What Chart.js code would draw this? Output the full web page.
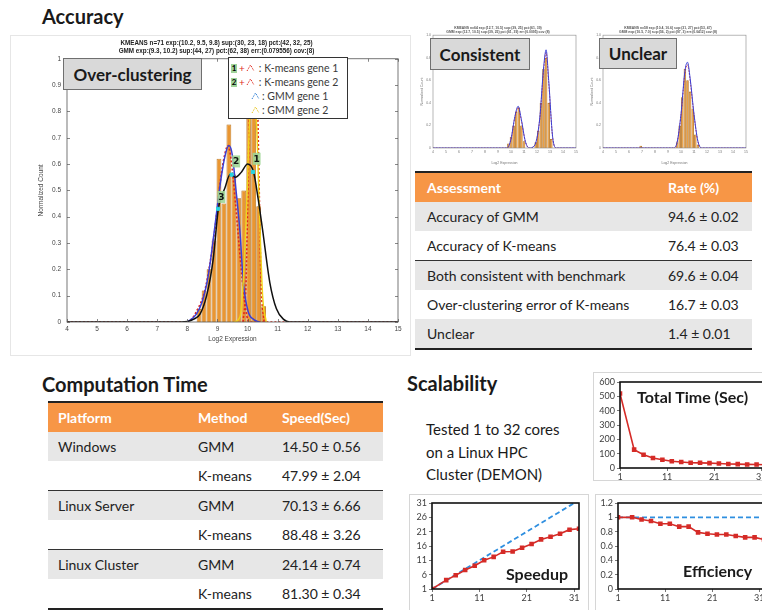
<!DOCTYPE html>
<html>
<head>
<meta charset="utf-8">
<title>GMM vs K-means</title>
<script src="https://cdn.jsdelivr.net/npm/chart.js@4.4.1/dist/chart.umd.min.js"></script>
<style>
  html, body { margin: 0; padding: 0; background: #fff; }
  body { position: relative; width: 762px; height: 610px; overflow: hidden; font-family: Lato, "Open Sans", sans-serif; color: #1a1a1a; }
  .abs { position: absolute; }
  canvas { position: absolute; }
  .section { position: absolute; font-weight: 700; font-size: 20px; line-height: 24px; white-space: nowrap; }
  .tag { position: absolute; background: #d9d9d9; border: 1px solid #6f6f6f; font-weight: 700; font-size: 17px; display: flex; align-items: center; justify-content: center; box-sizing: border-box; }
  .frame { position: absolute; border: 1px solid #d6d6d6; box-sizing: border-box; }
  .legend { position: absolute; background: #fff; border: 1.5px solid #333; box-sizing: border-box; font-size: 10.5px; color: #3a3a3a; padding: 3px 0 0 2px; }
  .legend div { height: 14px; line-height: 14px; white-space: nowrap; display: flex; align-items: center; }
  .gb { display: inline-block; width: 6px; height: 9px; background: #9fd39a; color: #000; font-weight: 700; font-size: 8px; line-height: 9px; text-align: center; margin-right: 2px; }
  table { position: absolute; border-collapse: collapse; font-size: 14px; color: #222; }
  th { background: #F79646; color: #fff; font-weight: 700; text-align: left; height: 29px; padding: 0; border-top: 2px solid #222; }
  td { height: 29px; padding: 0; }
  tr.g td { background: #e7e7e7; }
  tr.sep td { border-top: 1.5px solid #333; }
  tr.last td { border-bottom: 2px solid #222; }
  .inner { position: absolute; font-weight: 700; font-size: 16px; white-space: nowrap; }
  .note { position: absolute; font-size: 15px; line-height: 22.5px; white-space: nowrap; }
</style>
</head>
<body>

<div class="section" style="left:42px;top:4px;">Accuracy</div>
<div class="section" style="left:42px;top:372px;">Computation Time</div>
<div class="section" style="left:407px;top:371px;">Scalability</div>

<div class="frame" style="left:10px;top:35px;width:401px;height:321px;border-color:#e6e6e6;"></div>
<canvas id="hist" width="400" height="320" style="left:10px;top:35px;"></canvas>
<div class="tag" style="left:63px;top:58px;width:139px;height:32px;">Over-clustering</div>
<div class="legend" style="left:228px;top:57px;width:120px;height:62px;">
  <div><span class="gb">1</span><span style="color:#e0281c;font-size:10px;margin-right:1px;">+</span><svg width="9" height="8"><polyline points="1,7 4.5,1 8,7" fill="none" stroke="#e0281c" stroke-width="1" stroke-dasharray="1.5,1.2"/></svg><span style="margin-left:4px;">: K-means gene 1</span></div>
  <div><span class="gb">2</span><span style="color:#e0281c;font-size:10px;margin-right:1px;">+</span><svg width="9" height="8"><polyline points="1,7 4.5,1 8,7" fill="none" stroke="#e0281c" stroke-width="1" stroke-dasharray="1.5,1.2"/></svg><span style="margin-left:4px;">: K-means gene 2</span></div>
  <div><span style="display:inline-block;width:20px;"></span><svg width="9" height="8"><polyline points="1,7 4.5,1 8,7" fill="none" stroke="#2f7fd6" stroke-width="1" stroke-dasharray="1.5,1.2"/></svg><span style="margin-left:2px;">: GMM gene 1</span></div>
  <div><span style="display:inline-block;width:20px;"></span><svg width="9" height="8"><polyline points="1,7 4.5,1 8,7" fill="none" stroke="#e8c619" stroke-width="1" stroke-dasharray="1.5,1.2"/></svg><span style="margin-left:2px;">: GMM gene 2</span></div>
</div>

<canvas id="thumbA" width="165" height="145" style="left:420px;top:20px;"></canvas>
<canvas id="thumbB" width="165" height="145" style="left:590px;top:20px;"></canvas>
<div class="tag" style="left:430px;top:38px;width:100px;height:32px;">Consistent</div>
<div class="tag" style="left:599px;top:38px;width:78px;height:31px;">Unclear</div>

<table style="left:415px;top:171px;width:337px;">
  <tr><th style="width:241px;padding-left:12px;">Assessment</th><th>Rate (%)</th></tr>
  <tr class="g"><td style="padding-left:12px;">Accuracy of GMM</td><td>94.6 ± 0.02</td></tr>
  <tr><td style="padding-left:12px;">Accuracy of K-means</td><td>76.4 ± 0.03</td></tr>
  <tr class="g sep"><td style="padding-left:12px;">Both consistent with benchmark</td><td>69.6 ± 0.04</td></tr>
  <tr><td style="padding-left:12px;">Over-clustering error of K-means</td><td>16.7 ± 0.03</td></tr>
  <tr class="g last"><td style="padding-left:12px;">Unclear</td><td>1.4 ± 0.01</td></tr>
</table>

<table style="left:48px;top:401px;width:335px;">
  <tr><th style="width:140px;padding-left:10px;">Platform</th><th style="width:84px;">Method</th><th>Speed(Sec)</th></tr>
  <tr class="g"><td style="padding-left:10px;">Windows</td><td>GMM</td><td>14.50 ± 0.56</td></tr>
  <tr><td></td><td>K-means</td><td>47.99 ± 2.04</td></tr>
  <tr class="g sep"><td style="padding-left:10px;">Linux Server</td><td>GMM</td><td>70.13 ± 6.66</td></tr>
  <tr><td></td><td>K-means</td><td>88.48 ± 3.26</td></tr>
  <tr class="g sep"><td style="padding-left:10px;">Linux Cluster</td><td>GMM</td><td>24.14 ± 0.74</td></tr>
  <tr class="last"><td></td><td>K-means</td><td>81.30 ± 0.34</td></tr>
</table>

<div class="note" style="left:426px;top:418px;">Tested 1 to 32 cores<br>on a Linux HPC<br>Cluster (DEMON)</div>

<div class="frame" style="left:593px;top:372px;width:180px;height:109px;"></div>
<div class="frame" style="left:409px;top:494px;width:180px;height:130px;"></div>
<div class="frame" style="left:595px;top:494px;width:180px;height:130px;"></div>
<canvas id="total" width="180" height="116" style="left:593px;top:372px;"></canvas>
<canvas id="speedup" width="180" height="116" style="left:409px;top:494px;"></canvas>
<canvas id="efficiency" width="180" height="116" style="left:595px;top:494px;"></canvas>
<div class="inner" style="left:637px;top:387px;">Total Time (Sec)</div>
<div class="inner" style="left:506px;top:564px;">Speedup</div>
<div class="inner" style="left:683px;top:561px;">Efficiency</div>

<script>
// ---- main histogram (Log2 expression, over-clustering example)
const histBins = [8.39, 8.555, 8.72, 8.885, 9.05, 9.215, 9.38, 9.545, 9.71, 9.875, 10.04, 10.205, 10.37, 10.535];
const histCounts = [0.05, 0.12, 0.2, 0.31, 0.62, 0.45, 0.75, 0.56, 0.47, 0.5, 0.95, 0.9, 0.44, 0.06];

const gmmX = [4, 7.8, 8.2, 8.42, 8.64, 8.86, 9.03, 9.25, 9.42, 9.6, 9.8, 10.0, 10.2, 10.35, 10.5, 10.74, 10.96, 11.2, 11.4, 15];
const gmmMix = [0, 0, 0.01, 0.03, 0.1, 0.24, 0.43, 0.51, 0.56, 0.55, 0.57, 0.6, 0.57, 0.47, 0.35, 0.15, 0.05, 0.01, 0, 0];

const gmm1X = [8.0, 8.3, 8.5, 8.7, 8.9, 9.1, 9.25, 9.38, 9.5, 9.6, 9.75, 9.86, 10.02, 10.2, 10.4];
const gmm1Y = [0, 0.03, 0.08, 0.18, 0.35, 0.53, 0.63, 0.67, 0.63, 0.52, 0.34, 0.15, 0.04, 0.01, 0];

const gmm2X = [9.55, 9.75, 9.86, 9.97, 10.08, 10.17, 10.3, 10.4, 10.5, 10.62];
const gmm2Y = [0, 0.02, 0.16, 0.44, 0.8, 0.9, 0.75, 0.4, 0.1, 0];

const kmLeftX = [4, 8.0, 8.3, 8.6, 8.9, 9.1, 9.25, 9.35, 9.45, 9.6, 9.75, 9.9, 10.05, 15];
const kmLeftY = [0, 0, 0.04, 0.13, 0.34, 0.54, 0.64, 0.67, 0.62, 0.45, 0.25, 0.08, 0, 0];

const kmRightX = [9.85, 9.95, 10.02, 10.08, 10.2, 10.32, 10.38, 10.45, 10.55];
const kmRightY = [0, 0.15, 0.55, 0.9, 1.05, 0.9, 0.55, 0.15, 0];

const centerX = [9.02, 9.47, 10.18];
const centerY = [0.43, 0.56, 0.57];
const clusterLabelX = [10.3, 9.62, 9.13];
const clusterLabelY = [0.62, 0.61, 0.475];
const clusterLabelText = ["1", "2", "3"];

const histTitle = [
  "KMEANS n=71 exp:(10.2, 9.5, 9.8) sup:(30, 23, 18) pct:(42, 32, 25)",
  "GMM exp:(9.3, 10.2) sup:(44, 27) pct:(62, 38) err:(0.079556) cov:(8)"
];

// ---- thumbnails
const consBins = [9.8, 10.0, 10.2, 10.4, 10.6, 10.8, 11.0, 11.9, 12.1, 12.3, 12.5, 12.7, 12.9, 13.1];
const consCounts = [0.04, 0.1, 0.2, 0.32, 0.36, 0.2, 0.06, 0.05, 0.15, 0.4, 0.7, 0.8, 0.4, 0.08];
const consCurveX = [4, 9.7, 10.0, 10.3, 10.55, 10.8, 11.1, 11.4, 11.8, 12.2, 12.5, 12.7, 12.9, 13.2, 13.5, 15];
const consCurveY = [0, 0, 0.08, 0.28, 0.37, 0.25, 0.06, 0, 0.02, 0.25, 0.7, 0.87, 0.6, 0.1, 0, 0];

const unclBins = [6.9, 9.7, 9.9, 10.1, 10.3, 10.5, 10.7, 10.9, 11.1, 11.3];
const unclCounts = [0.02, 0.05, 0.2, 0.45, 0.7, 0.6, 0.5, 0.35, 0.12, 0.03];
const unclCurveX = [4, 9.4, 9.7, 10.0, 10.3, 10.5, 10.7, 11.0, 11.3, 11.6, 15];
const unclCurveY = [0, 0, 0.05, 0.3, 0.68, 0.76, 0.62, 0.3, 0.06, 0, 0];

const consTitle = ["KMEANS n=64 exp:(12.7, 10.5) sup:(39, 25) pct:(61, 39)", "GMM exp:(12.7, 10.5) sup:(39, 25) pct:(61, 39) err:(0.0095) cov:(8)"];
const unclTitle = ["KMEANS n=58 exp:(10.4, 10.6) sup:(31, 27) pct:(53, 47)", "GMM exp:(10.5, 7.0) sup:(56, 2) pct:(97, 3) err:(0.0412) cov:(8)"];

// ---- scalability (Linux HPC cluster)
const cores = [1, 4, 6, 8, 10, 12, 14, 16, 18, 20, 22, 24, 26, 28, 30, 32];
const totalTime = [520, 128, 92, 70, 57, 47, 42, 37, 36, 34, 31, 28, 27, 25, 24, 23];
const speedup = [1, 4.1, 5.8, 7.6, 9.1, 11, 12.2, 14, 14.1, 15.4, 16.7, 18.3, 19.2, 20.3, 21.7, 22];
const idealSpeedup = [1, 4, 6, 8, 10, 12, 14, 16, 18, 20, 22, 24, 26, 28, 30, 32];
const efficiency = [1, 1, 0.97, 0.95, 0.91, 0.91, 0.87, 0.87, 0.79, 0.77, 0.76, 0.76, 0.74, 0.72, 0.72, 0.69];
const idealEfficiency = [1, 1, 1, 1, 1, 1, 1, 1, 1, 1, 1, 1, 1, 1, 1, 1];
const coreTicks = [1, 11, 21, 31];
const totalTicks = [0, 100, 200, 300, 400, 500, 600];
const speedupTicks = [1, 6, 11, 16, 21, 26, 31];
const effTicks = [0, 0.2, 0.4, 0.6, 0.8, 1, 1.2];

const pts = (xs, ys) => xs.map((x, i) => ({ x, y: ys[i] }));

function curve(xs, ys, color, dash, width) {
  return {
    type: "line",
    data: pts(xs, ys),
    borderColor: color,
    borderWidth: width || 1.3,
    borderDash: dash || [],
    pointRadius: 0,
    cubicInterpolationMode: "monotone",
    fill: false,
    order: 1
  };
}

function bars(xs, ys) {
  return {
    type: "bar",
    data: pts(xs, ys),
    backgroundColor: "#EA9631",
    borderColor: "#A9640F",
    borderWidth: 0.8,
    categoryPercentage: 1,
    barPercentage: 0.96,
    order: 10
  };
}

// frame round the plot area, with matlab style inward ticks
const boxPlugin = {
  id: "box",
  afterDraw(chart, args, opts) {
    const { ctx, chartArea: a } = chart;
    ctx.save();
    ctx.strokeStyle = opts.color || "#000";
    ctx.lineWidth = opts.width || 1;
    ctx.strokeRect(a.left, a.top, a.right - a.left, a.bottom - a.top);
    if (opts.inner) {
      const x = chart.scales.x, y = chart.scales.y, len = opts.inner;
      ctx.beginPath();
      x.ticks.forEach(t => {
        const px = Math.round(x.getPixelForValue(t.value)) + 0.5;
        ctx.moveTo(px, a.bottom); ctx.lineTo(px, a.bottom - len);
        ctx.moveTo(px, a.top); ctx.lineTo(px, a.top + len);
      });
      y.ticks.forEach(t => {
        const py = Math.round(y.getPixelForValue(t.value)) + 0.5;
        ctx.moveTo(a.left, py); ctx.lineTo(a.left + len, py);
        ctx.moveTo(a.right, py); ctx.lineTo(a.right - len, py);
      });
      ctx.lineWidth = 0.7;
      ctx.stroke();
    }
    ctx.restore();
  }
};

const clusterLabels = {
  id: "clusterLabels",
  afterDatasetsDraw(chart) {
    const { ctx, scales: { x, y } } = chart;
    ctx.save();
    ctx.font = "bold 9px 'DejaVu Sans'";
    ctx.textAlign = "center";
    ctx.textBaseline = "middle";
    clusterLabelText.forEach((t, i) => {
      const px = x.getPixelForValue(clusterLabelX[i]);
      const py = y.getPixelForValue(clusterLabelY[i]);
      ctx.fillStyle = "rgba(160,214,150,0.9)";
      ctx.fillRect(px - 4, py - 6, 8, 12);
      ctx.fillStyle = "#111";
      ctx.fillText(t, px, py + 0.5);
    });
    ctx.restore();
  }
};

Chart.defaults.animation = false;
Chart.defaults.responsive = false;
Chart.defaults.plugins.legend.display = false;
Chart.defaults.plugins.tooltip.enabled = false;

const smallFont = { family: "'Liberation Sans'", size: 6.5 };

new Chart(document.getElementById("hist"), {
  type: "bar",
  data: {
    datasets: [
      {
        type: "line",
        data: pts(centerX, centerY),
        showLine: false,
        pointStyle: "rect",
        pointRadius: 2.2,
        pointBackgroundColor: "#27d3e0",
        pointBorderColor: "#27d3e0",
        order: 0
      },
      curve(gmmX, gmmMix, "#111", [], 1.5),
      curve(gmm2X, gmm2Y, "#f2d21b", [], 1.5),
      curve(gmm1X, gmm1Y, "#3a3fd6", [], 1.5),
      curve(kmLeftX, kmLeftY, "#e0281c", [2, 2], 1.6),
      curve(kmRightX, kmRightY, "#e0281c", [2, 2], 1.6),
      bars(histBins, histCounts)
    ]
  },
  options: {
    layout: { padding: { right: 12, left: 25, bottom: 11 } },
    plugins: {
      title: {
        display: true,
        text: histTitle,
        color: "#222",
        font: { family: "'Liberation Sans'", size: 6.3, weight: "bold", lineHeight: 1.25 },
        padding: { top: 4, bottom: 4 }
      },
      box: { color: "#555", width: 0.8, inner: 3 }
    },
    scales: {
      x: {
        type: "linear", min: 4, max: 15, offset: false,
        grid: { display: false, drawTicks: false, tickLength: 0, offset: false },
        border: { display: false },
        ticks: { stepSize: 1, color: "#444", font: smallFont, padding: 3 },
        title: { display: true, text: "Log2 Expression", color: "#444", font: smallFont, padding: 1 },
        afterFit: s => { s.height = 22; }
      },
      y: {
        min: 0, max: 1,
        grid: { display: false, drawTicks: false, tickLength: 0 },
        border: { display: false },
        ticks: { stepSize: 0.1, color: "#444", font: smallFont, padding: 6,
          callback: v => Number(v.toFixed(1)) },
        title: { display: true, text: "Normalized Count", color: "#444", font: smallFont, padding: 2 },
        afterFit: s => { s.width = 32; }
      }
    }
  },
  plugins: [boxPlugin, clusterLabels]
});

function thumb(id, binsX, binsY, cx, cy, title) {
  new Chart(document.getElementById(id), {
    type: "bar",
    data: {
      datasets: [
        curve(cx, cy, "#3a3fd6", [], 1),
        curve(cx, cy.map(v => v * 0.97), "#e0281c", [1.5, 1.5], 0.9),
        bars(binsX, binsY)
      ]
    },
    options: {
      layout: { padding: { right: 9 } },
      plugins: {
        title: {
          display: true, text: title, color: "#555",
          font: { family: "'Liberation Sans'", size: 3.4, weight: "bold", lineHeight: 1.2 },
          padding: { top: 6, bottom: 1 }
        },
        box: { color: "#888", width: 0.6 }
      },
      scales: {
        x: {
          type: "linear", min: 4, max: 15, offset: false,
          grid: { display: false, drawTicks: false, tickLength: 0 }, border: { display: false },
          ticks: { stepSize: 1, color: "#777", font: { size: 3.5 }, padding: 2 },
          title: { display: true, text: "Log2 Expression", color: "#777", font: { size: 3.5 }, padding: 0 },
          afterFit: s => { s.height = 17; }
        },
        y: {
          min: 0, max: 1,
          grid: { display: false, drawTicks: false, tickLength: 0 }, border: { display: false },
          ticks: { stepSize: 0.2, color: "#777", font: { size: 3.5 }, padding: 2 },
          title: { display: true, text: "Normalized Count", color: "#777", font: { size: 3.5 }, padding: 0 },
          afterFit: s => { s.width = 13; }
        }
      }
    },
    plugins: [boxPlugin]
  });
}

thumb("thumbA", consBins, consCounts, consCurveX, consCurveY, consTitle);
thumb("thumbB", unclBins, unclCounts, unclCurveX, unclCurveY, unclTitle);

function redLine(ys) {
  return {
    data: pts(cores, ys),
    borderColor: "#d52b27",
    backgroundColor: "#d52b27",
    borderWidth: 1.6,
    pointStyle: "rect",
    pointRadius: 2.1,
    order: 0
  };
}

function idealLine(ys) {
  return {
    data: pts(cores, ys),
    borderColor: "#2f8fe0",
    borderWidth: 1.8,
    borderDash: [5, 3],
    pointRadius: 0,
    order: 1
  };
}

function scaleChart(id, datasets, yMin, yMax, yTicks, padRight, xHeight, yWidth, padTop) {
  new Chart(document.getElementById(id), {
    type: "line",
    data: { datasets },
    options: {
      layout: { padding: { top: padTop, right: padRight } },
      plugins: { box: { color: "#111", width: 1.6 } },
      scales: {
        x: {
          type: "linear", min: 1, max: 32,
          afterBuildTicks: s => { s.ticks = coreTicks.map(v => ({ value: v })); },
          grid: { drawOnChartArea: false, drawTicks: true, tickLength: 3, color: "#777" },
          border: { display: false },
          ticks: { color: "#404040", font: { family: "Lato", size: 9 }, padding: 1 },
          afterFit: s => { s.height = xHeight; }
        },
        y: {
          min: yMin, max: yMax,
          afterBuildTicks: s => { s.ticks = yTicks.map(v => ({ value: v })); },
          grid: { drawOnChartArea: false, drawTicks: true, tickLength: 3, color: "#777" },
          border: { display: false },
          ticks: { color: "#404040", font: { family: "Lato", size: 9 }, padding: 2,
            callback: v => String(Number(v.toFixed(1))) },
          afterFit: s => { s.width = yWidth; }
        }
      }
    },
    plugins: [boxPlugin]
  });
}

scaleChart("total", [redLine(totalTime)], 0, 600, totalTicks, 7, 20, 27, 10);
scaleChart("speedup", [redLine(speedup), idealLine(idealSpeedup)], 1, 31, speedupTicks, 10, 21, 23, 9);
scaleChart("efficiency", [redLine(efficiency), idealLine(idealEfficiency)], 0, 1.2, effTicks, 11, 21, 23, 9);
</script>
</body>
</html>
